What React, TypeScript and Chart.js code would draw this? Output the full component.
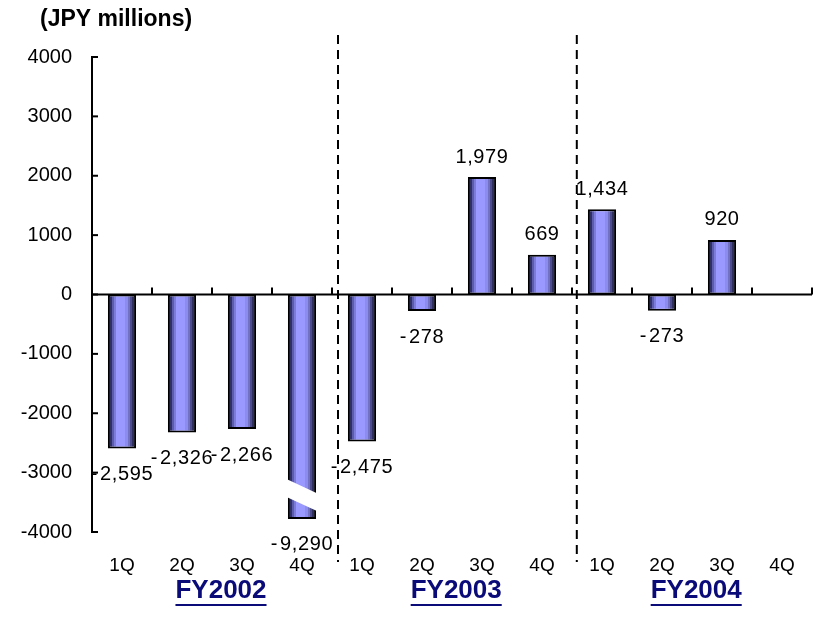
import React, { useEffect, useRef } from "react";
import { Chart, registerables } from "chart.js";

Chart.register(...registerables);

// ---- data ----
const quarters = ["1Q", "2Q", "3Q", "4Q", "1Q", "2Q", "3Q", "4Q", "1Q", "2Q", "3Q", "4Q"];
const fiscalYears = ["FY2002", "FY2003", "FY2004"];
const operatingIncome: (number | null)[] = [-2595, -2326, -2266, -9290, -2475, -278, 1979, 669, 1434, -273, 920, null];
const yMin = -4000;
const yMax = 4000;
const yStep = 1000;
const axisBreakValue = -3780; // off-scale bars are cut here
const unitLabel = "(JPY millions)";

const FONT = '"Liberation Sans", Arial, Helvetica, sans-serif';
const BAR_PCT = 0.47;
const NAVY = "#0a0a78";

function fmt(v: number): { sign: string; body: string } {
  const abs = Math.abs(v).toLocaleString("en-US");
  return { sign: v < 0 ? "-" : "", body: abs };
}

const overlayPlugin = {
  id: "overlay",
  afterDatasetsDraw(chart: any) {
    const { ctx, chartArea } = chart;
    const xs = chart.scales.x;
    const ys = chart.scales.y;
    const y0 = ys.getPixelForValue(0);
    const left = chartArea.left;
    const right = chartArea.right;
    const meta = chart.getDatasetMeta(0);

    ctx.save();
    // axis break stripe
    meta.data.forEach((el: any, i: number) => {
      const v = operatingIncome[i];
      if (v === null || v >= axisBreakValue) return;
      const w = el.width;
      const xl = el.x - w / 2 - 3;
      const xr = el.x + w / 2 + 3;
      const yTop = ys.getPixelForValue(-3120);
      const yBot = ys.getPixelForValue(-3420);
      const slope = 13 / w;
      const dy = (xr - xl) * slope;
      const off = 3 * slope;
      ctx.fillStyle = "#ffffff";
      ctx.beginPath();
      ctx.moveTo(xl, yTop - off);
      ctx.lineTo(xr, yTop - off + dy);
      ctx.lineTo(xr, yBot - off + dy);
      ctx.lineTo(xl, yBot - off);
      ctx.closePath();
      ctx.fill();
    });

    ctx.strokeStyle = "#000";
    ctx.lineWidth = 2;
    ctx.setLineDash([]);
    // zero line
    ctx.beginPath();
    ctx.moveTo(left, y0);
    ctx.lineTo(right, y0);
    ctx.stroke();
    // y axis line
    const yt = ys.getPixelForValue(yMax);
    const yb = ys.getPixelForValue(yMin);
    ctx.beginPath();
    ctx.moveTo(left, yt - 1);
    ctx.lineTo(left, yb + 1);
    ctx.stroke();
    // y ticks (inside)
    for (let v = yMin; v <= yMax; v += yStep) {
      const y = ys.getPixelForValue(v);
      ctx.beginPath();
      ctx.moveTo(left, y);
      ctx.lineTo(left + 6, y);
      ctx.stroke();
    }
    // x ticks at category boundaries (upward)
    for (let i = 0; i <= quarters.length; i++) {
      const x = xs.getPixelForValue(i - 0.5);
      ctx.beginPath();
      ctx.moveTo(x, y0);
      ctx.lineTo(x, y0 - 7);
      ctx.stroke();
    }
    // dashed separators
    ctx.setLineDash([9, 6]);
    [3.6, 7.58].forEach((p) => {
      const x = xs.getPixelForValue(p);
      ctx.beginPath();
      ctx.moveTo(x, chartArea.top - 22);
      ctx.lineTo(x, chartArea.bottom + 30);
      ctx.stroke();
    });
    ctx.setLineDash([]);

    // data labels
    ctx.fillStyle = "#000";
    ctx.font = `20px ${FONT}`;
    ctx.textBaseline = "middle";
    ctx.textAlign = "left";
    (ctx as any).letterSpacing = "0.6px";
    meta.data.forEach((el: any, i: number) => {
      const v = operatingIncome[i];
      if (v === null) return;
      const { sign, body } = fmt(v);
      const wSign = sign ? ctx.measureText(sign).width + 2 : 0;
      const wBody = ctx.measureText(body).width;
      const total = wSign + wBody;
      const x0 = el.x - total / 2;
      const y = v < 0 ? el.y + 26 : el.y - 20;
      if (sign) ctx.fillText(sign, x0, y);
      ctx.fillText(body, x0 + wSign, y);
    });
    (ctx as any).letterSpacing = "0px";

    // category labels
    ctx.textAlign = "center";
    ctx.font = `19px ${FONT}`;
    quarters.forEach((q, i) => {
      ctx.fillText(q, xs.getPixelForValue(i), chartArea.bottom + 34);
    });

    // fiscal year labels
    ctx.font = `bold 26px ${FONT}`;
    ctx.fillStyle = NAVY;
    ctx.strokeStyle = NAVY;
    const fyPos = [1.65, 5.57, 9.57];
    fiscalYears.forEach((fy, i) => {
      const x = xs.getPixelForValue(fyPos[i]);
      const y = chartArea.bottom + 59;
      ctx.fillText(fy, x, y);
      const w = ctx.measureText(fy).width;
      ctx.lineWidth = 2;
      ctx.beginPath();
      ctx.moveTo(x - w / 2, y + 14);
      ctx.lineTo(x + w / 2, y + 14);
      ctx.stroke();
    });

    // unit label
    ctx.fillStyle = "#000";
    ctx.textAlign = "left";
    ctx.font = `bold 23px ${FONT}`;
    ctx.fillText(unitLabel, 40, 20);
    ctx.restore();
  },
};

export default function App() {
  const ref = useRef<HTMLCanvasElement | null>(null);
  useEffect(() => {
    document.body.style.margin = "0";
    if (!ref.current) return;
    const drawn = operatingIncome.map((v) => (v === null ? null : Math.max(v, axisBreakValue)));
    const chart = new Chart(ref.current, {
      type: "bar",
      data: {
        labels: quarters,
        datasets: [
          {
            data: drawn,
            borderColor: "#000",
            borderWidth: 2,
            borderSkipped: false,
            barPercentage: BAR_PCT,
            categoryPercentage: 1,
            backgroundColor: (c: any) => {
              const chartObj = c.chart;
              const xs = chartObj.scales?.x;
              if (!xs || c.dataIndex === undefined) return "#9999ff";
              const cx = xs.getPixelForValue(c.dataIndex);
              const w = (xs.width / quarters.length) * BAR_PCT;
              if (!isFinite(cx) || !w) return "#9999ff";
              const g = chartObj.ctx.createLinearGradient(cx - w / 2, 0, cx + w / 2, 0);
              const stops: [number, string][] = [
                [0.0, "#303068"],
                [0.14, "#303068"],
                [0.14, "#5c5cac"],
                [0.22, "#5c5cac"],
                [0.22, "#7c7cd8"],
                [0.3, "#7c7cd8"],
                [0.3, "#9999ff"],
                [0.6, "#9999ff"],
                [0.6, "#8c8cee"],
                [0.7, "#8c8cee"],
                [0.7, "#7272c4"],
                [0.79, "#7272c4"],
                [0.79, "#4c4c8e"],
                [0.87, "#4c4c8e"],
                [0.87, "#303060"],
                [1.0, "#303060"],
              ];
              stops.forEach(([o, col]) => g.addColorStop(o, col));
              return g;
            },
          },
        ],
      },
      options: {
        responsive: false,
        animation: false,
        events: [],
        layout: { padding: { left: 0, right: 5, top: 57, bottom: 100 } },
        plugins: { legend: { display: false }, tooltip: { enabled: false }, title: { display: false } },
        scales: {
          x: { display: false, offset: true },
          y: {
            min: yMin,
            max: yMax,
            grid: { display: false, drawTicks: false },
            border: { display: false },
            afterFit: (s: any) => {
              s.width = 92;
            },
            ticks: {
              stepSize: yStep,
              padding: 20,
              color: "#000",
              font: { family: FONT, size: 20 },
              callback: (v: any) => String(v),
            },
          },
        },
      },
      plugins: [overlayPlugin],
    });
    return () => chart.destroy();
  }, []);
  return (
    <div style={{ width: 817, height: 632 }}>
      <canvas ref={ref} width={817} height={632} />
    </div>
  );
}
